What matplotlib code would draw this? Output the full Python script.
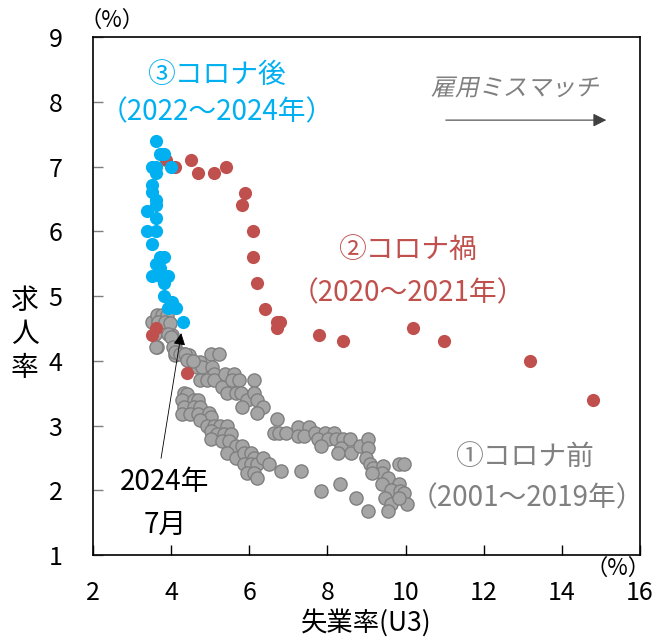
import matplotlib
matplotlib.use('Agg')
import matplotlib.pyplot as plt
from matplotlib.textpath import TextPath
from matplotlib.patches import PathPatch
from matplotlib.font_manager import FontProperties
from matplotlib.transforms import Affine2D

plt.rcParams['font.family'] = ['Noto Sans CJK JP', 'DejaVu Sans']

# ①コロナ前 (2001-2019)
gray_x = [3.50, 3.67, 3.93, 4.02, 3.63, 4.10, 4.10, 4.32, 4.45, 4.58, 4.75, 5.01, 5.22,
          4.66, 4.79, 5.05, 5.09, 4.75, 4.92, 5.09, 5.31, 5.39, 5.61, 5.56, 5.74, 5.44,
          5.65, 5.78, 6.12, 5.95, 6.12, 6.21, 6.34, 5.82, 6.21,
          3.63, 3.76, 3.89, 3.67, 3.84, 3.97, 3.59, 3.60, 3.93, 4.00, 4.06, 4.10, 4.23,
          4.35, 4.40, 4.57,
          4.32, 4.40, 4.27, 4.58, 4.70, 4.32, 4.58, 4.75, 4.27, 4.49, 4.70, 4.96, 5.01,
          4.75, 4.92, 5.09, 5.26, 5.44, 5.01, 5.18, 5.35, 5.52, 5.01, 5.31, 5.48, 5.65,
          5.82, 5.44, 5.65, 5.86, 6.04, 6.12, 5.86, 6.04, 6.21, 6.34, 6.51, 5.95, 6.12,
          6.21, 6.81, 7.32,
          6.72, 6.64, 6.77, 6.94, 7.24, 7.54, 7.24, 7.41, 7.67, 7.93, 7.75, 8.18, 8.01,
          7.84, 8.23, 8.40, 8.57, 8.36, 8.27, 8.61, 8.83, 9.04, 9.04, 9.00, 9.09, 9.17,
          9.43, 9.39, 9.13, 9.56, 9.82, 9.95, 9.39, 9.82, 9.64, 9.86, 9.95, 9.47, 9.64,
          10.03, 9.56, 9.82,
          7.84, 8.31, 8.74, 9.04]
gray_y = [4.60, 4.60, 4.60, 4.40, 4.21, 4.21, 4.09, 4.11, 4.09, 3.98, 3.98, 4.11, 4.11,
          3.90, 3.90, 3.90, 3.80, 3.70, 3.70, 3.70, 3.59, 3.80, 3.80, 3.70, 3.70, 3.51,
          3.51, 3.51, 3.70, 3.39, 3.51, 3.39, 3.28, 3.28, 3.20,
          4.71, 4.71, 4.71, 4.60, 4.60, 4.58, 4.42, 4.22, 4.42, 4.37, 4.22, 4.14, 4.11,
          4.11, 4.01, 3.99,
          3.51, 3.49, 3.39, 3.39, 3.39, 3.28, 3.28, 3.28, 3.18, 3.18, 3.18, 3.20, 3.13,
          3.08, 3.00, 3.00, 3.00, 3.00, 2.92, 2.87, 2.87, 2.87, 2.79, 2.76, 2.76, 2.69,
          2.69, 2.58, 2.50, 2.58, 2.58, 2.50, 2.40, 2.40, 2.40, 2.50, 2.40, 2.27, 2.27,
          2.19, 2.30, 2.30,
          3.10, 2.89, 2.89, 2.89, 2.97, 2.97, 2.84, 2.84, 2.89, 2.89, 2.79, 2.89, 2.79,
          2.69, 2.79, 2.79, 2.79, 2.66, 2.58, 2.58, 2.69, 2.79, 2.66, 2.50, 2.40, 2.35,
          2.38, 2.27, 2.27, 2.19, 2.40, 2.40, 2.09, 2.09, 2.01, 1.99, 1.96, 1.88, 1.78,
          1.78, 1.68, 1.88,
          1.99, 2.09, 1.88, 1.68]

# ②コロナ禍 (2020-2021)
red_x = [3.50, 3.60, 4.40, 14.79, 13.19, 10.99, 10.18, 8.39, 7.79, 6.79, 6.70, 6.72,
         6.39, 6.21, 6.09, 6.09, 5.81, 5.89, 5.40, 5.10, 4.69, 4.50, 4.10, 3.87]
red_y = [4.40, 4.50, 3.81, 3.40, 4.00, 4.30, 4.50, 4.30, 4.40, 4.60, 4.50, 4.60,
         4.80, 5.20, 5.61, 6.00, 6.41, 6.60, 7.00, 6.90, 6.90, 7.10, 7.00, 7.10]

# ③コロナ後 (2022-2024)
blue_x = [3.60, 3.71, 3.82, 3.50, 3.60, 3.60, 4.00, 3.50, 3.50, 3.60, 3.60, 3.39,
          3.60, 3.39, 3.60, 3.50, 3.71, 3.82, 3.60, 3.71, 3.50, 3.71, 3.93, 3.82,
          3.82, 4.03, 3.93, 4.12, 4.31]
blue_y = [7.40, 7.20, 7.20, 7.00, 7.00, 6.90, 7.00, 6.71, 6.61, 6.49, 6.41, 6.32,
          6.20, 6.00, 6.00, 5.80, 5.61, 5.61, 5.49, 5.43, 5.31, 5.31, 5.31, 5.20,
          5.00, 4.91, 4.81, 4.81, 4.60]

xticks = [2, 4, 6, 8, 10, 12, 14, 16]
yticks = [1, 2, 3, 4, 5, 6, 7, 8, 9]

fig = plt.figure(figsize=(6.55, 6.43), dpi=100)
ax = fig.add_axes([0.142, 0.137, 0.835, 0.805])

ax.scatter(gray_x, gray_y, s=90, c='#A5A5A5', edgecolors='#7F7F7F', linewidths=1, zorder=2)
ax.scatter(red_x, red_y, s=90, c='#C0504D', linewidths=0, zorder=3)
ax.scatter(blue_x, blue_y, s=90, c='#00B0F0', linewidths=0, zorder=4)

ax.set_xlim(2, 16)
ax.set_ylim(1, 9)
ax.set_xticks(xticks)
ax.set_yticks(yticks)
ax.tick_params(axis='x', direction='in', length=7, width=1, color='black', labelsize=18, pad=18)
ax.tick_params(axis='y', direction='in', length=7, width=1, color='#7F7F7F', labelsize=18, pad=22)
for sp in ax.spines.values():
    sp.set_linewidth(1.2)
    sp.set_color('black')

ax.set_xlabel('失業率(U3)', fontsize=19, labelpad=2)
fig.text(0.038, 0.48, '求\n人\n率', fontsize=20, ha='center', va='center', linespacing=1.15)
fig.text(112 / 655, 1 - 20 / 643, '（%）', fontsize=16, ha='center', va='center')
fig.text(618 / 655, 1 - 568 / 643, '（%）', fontsize=16, ha='center', va='center')

# series labels
ax.text(5.17, 8.41, '③コロナ後', color='#00B0F0', fontsize=20, ha='center', va='center')
ax.text(5.17, 7.84, '（2022～2024年）', color='#00B0F0', fontsize=20, ha='center', va='center')
ax.text(10.06, 5.71, '②コロナ禍', color='#C0504D', fontsize=20, ha='center', va='center')
ax.text(10.06, 5.05, '（2020～2021年）', color='#C0504D', fontsize=20, ha='center', va='center')
ax.text(13.03, 2.51, '①コロナ前', color='#808080', fontsize=20, ha='center', va='center')
ax.text(13.11, 1.88, '（2001～2019年）', color='#808080', fontsize=20, ha='center', va='center')

# latest point
ax.annotate('', xy=(4.27, 4.47), xytext=(3.73, 2.45),
            arrowprops=dict(arrowstyle='-|>', color='black', lw=0.6, mutation_scale=18))
ax.text(3.84, 2.13, '2024年', fontsize=20, ha='center', va='center')
ax.text(3.84, 1.46, '7月', fontsize=20, ha='center', va='center')

# 雇用ミスマッチ arrow
ax.annotate('', xy=(15.21, 7.72), xytext=(10.96, 7.72),
            arrowprops=dict(arrowstyle='-|>', color='#404040', lw=0.8, mutation_scale=20))
fp = FontProperties(family='Noto Sans CJK JP')
tp = TextPath((0, 0), '雇用ミスマッチ', size=24, prop=fp)
bb = tp.get_extents()
tr = Affine2D().translate(-bb.x0 - bb.width / 2, -bb.y0 - bb.height / 2).skew_deg(12, 0).translate(516, 643 - 87)
fig.add_artist(PathPatch(tp, transform=tr, facecolor='#808080', lw=0))

fig.savefig('out.png', dpi=100)
plt.close()
